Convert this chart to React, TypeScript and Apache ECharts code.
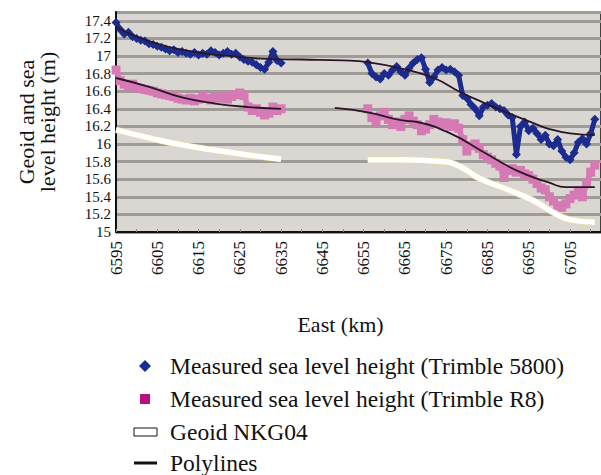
import React, { useEffect, useRef } from "react";
import * as echarts from "echarts";

// Measurement profile: east coordinate (km) vs height (m)
const EAST_MIN = 6595;
const EAST_MAX = 6712.5;
const Y_MIN = 15;
const Y_MAX = 17.5;

// Trimble 5800 sea level heights, one reading per km
const t5800Start1 = 6595;
const t5800Seg1 = [
  17.38, 17.3, 17.25, 17.27, 17.22, 17.2, 17.18, 17.17, 17.14, 17.13,
  17.11, 17.1, 17.08, 17.06, 17.07, 17.04, 17.05, 17.03, 17.02, 17.04,
  17.01, 17.03, 17.02, 17.06, 17.04, 17.01, 17.03, 17.05, 17.02, 17.03,
  16.99, 16.96, 16.94, 16.93, 16.9, 16.87, 16.85, 16.93, 17.05, 16.95, 16.92,
];
const t5800Start2 = 6656;
const t5800Seg2 = [
  16.92, 16.8, 16.76, 16.74, 16.8, 16.78, 16.84, 16.88, 16.82, 16.78,
  16.86, 16.92, 16.96, 16.98, 16.85, 16.7, 16.76, 16.84, 16.87, 16.84,
  16.85, 16.82, 16.78, 16.55, 16.52, 16.45, 16.4, 16.32, 16.42, 16.44,
  16.46, 16.42, 16.4, 16.38, 16.33, 16.3, 15.88, 16.2, 16.25, 16.15,
  16.18, 16.12, 16.05, 16.1, 16.0, 15.98, 16.05, 15.92, 15.85, 15.82,
  15.9, 16.02, 16.06, 16.0, 16.12, 16.28,
];

// Trimble R8 sea level heights, one reading per km
const r8Start1 = 6595;
const r8Seg1 = [
  16.84, 16.72, 16.68, 16.66, 16.68, 16.64, 16.63, 16.62, 16.61, 16.6,
  16.58, 16.57, 16.56, 16.55, 16.54, 16.52, 16.51, 16.5, 16.52, 16.49,
  16.51, 16.55, 16.52, 16.5, 16.53, 16.52, 16.55, 16.51, 16.54, 16.56,
  16.58, 16.55, 16.42, 16.38, 16.4, 16.36, 16.33, 16.35, 16.42, 16.38, 16.4,
];
const r8Start2 = 6656;
const r8Seg2 = [
  16.4, 16.3, 16.25, 16.32, 16.36, 16.28, 16.22, 16.25, 16.2, 16.28,
  16.32, 16.26, 16.22, 16.15, 16.17, 16.22, 16.28, 16.25, 16.22, 16.24,
  16.2, 16.23, 16.18, 16.05, 15.92, 15.98, 16.0, 15.95, 15.88, 15.85,
  15.82, 15.78, 15.75, 15.62, 15.7, 15.72, 15.68, 15.7, 15.66, 15.64,
  15.6, 15.55, 15.5, 15.48, 15.4, 15.35, 15.3, 15.28, 15.32, 15.38,
  15.42, 15.45, 15.4, 15.55, 15.68, 15.76,
];

// Geoid NKG04 along the profile
const geoidEast1 = [6595, 6603, 6611, 6619, 6627, 6635];
const geoidHeight1 = [16.16, 16.07, 15.99, 15.93, 15.875, 15.83];
const geoidEast2 = [6656, 6664, 6674, 6678.5, 6683, 6690, 6696, 6701, 6705, 6711];
const geoidHeight2 = [15.82, 15.82, 15.8, 15.74, 15.61, 15.48, 15.36, 15.22, 15.14, 15.11];

// Fitted polylines
const polyUpperEast = [6595, 6600, 6605, 6610, 6615, 6620, 6625, 6630, 6640, 6650, 6656, 6664, 6672, 6678, 6684, 6688, 6696, 6700, 6705, 6711];
const polyUpperHeight = [17.33, 17.22, 17.14, 17.08, 17.04, 17.01, 16.99, 16.97, 16.96, 16.95, 16.93, 16.86, 16.75, 16.6, 16.47, 16.39, 16.24, 16.17, 16.12, 16.1];
const polyLowerEast1 = [6595, 6603, 6611, 6619, 6627, 6635];
const polyLowerHeight1 = [16.75, 16.65, 16.53, 16.46, 16.42, 16.4];
const polyLowerEast2 = [6648, 6656, 6664, 6668, 6676, 6684, 6692, 6700, 6704, 6711];
const polyLowerHeight2 = [16.41, 16.36, 16.27, 16.25, 16.12, 15.91, 15.7, 15.56, 15.51, 15.51];

const legendLabels = [
  "Measured sea level height (Trimble 5800)",
  "Measured sea level height (Trimble R8)",
  "Geoid NKG04",
  "Polylines",
];

const BLUE = "#1c2c8e";
const PINK = "#d67ab6";
const MAGENTA = "#b8107c";
const FONT = "Liberation Serif";

const perKm = (start: number, vals: number[]) => vals.map((v, i) => [start + i, v]);
const pairs = (xs: number[], ys: number[]) => xs.map((x, i) => [x, ys[i]]);

export default function App() {
  const ref = useRef<HTMLDivElement>(null);

  useEffect(() => {
    if (!ref.current) return;
    const chart = echarts.init(ref.current, undefined, { renderer: "svg" });

    const measured = (data: number[][], color: string, symbol: string, size: number, width: number) => ({
      type: "line",
      data,
      symbol,
      symbolSize: size,
      showSymbol: true,
      itemStyle: { color },
      lineStyle: { color, width },
      z: 2,
    });
    const geoidUnder = (data: number[][]) => ({
      type: "line",
      data,
      smooth: true,
      showSymbol: false,
      lineStyle: { color: "#eadb8e", width: 6.5 },
      z: 3,
    });
    const geoidTop = (data: number[][]) => ({
      type: "line",
      data,
      smooth: true,
      showSymbol: false,
      lineStyle: { color: "#ffffff", width: 5.5 },
      z: 4,
    });
    const poly = (data: number[][]) => ({
      type: "line",
      data,
      smooth: true,
      showSymbol: false,
      lineStyle: { color: "#2a1626", width: 1.8 },
      z: 5,
    });

    const lx = 145;
    const tx = 170;
    const rows = [366, 399, 432, 463];

    chart.setOption({
      animation: false,
      backgroundColor: "#ffffff",
      grid: {
        left: 116,
        right: -2,
        top: 12,
        bottom: 243,
        show: true,
        backgroundColor: "#dad7d3",
        borderColor: "#111",
        borderWidth: 1.5,
      },
      xAxis: {
        type: "value",
        min: EAST_MIN,
        max: EAST_MAX,
        interval: 5,
        name: "East (km)",
        nameLocation: "middle",
        nameGap: 81,
        nameTextStyle: { fontFamily: FONT, fontSize: 22, color: "#111", padding: [0, 36, 0, 0] },
        axisLine: { lineStyle: { color: "#111", width: 2 } },
        axisTick: { show: true, inside: true, length: 3, lineStyle: { color: "#888" } },
        splitLine: { show: false },
        axisLabel: {
          rotate: 90,
          margin: 9,
          fontFamily: FONT,
          fontSize: 17,
          color: "#111",
          formatter: (v: number) => ((v - EAST_MIN) % 10 === 0 ? String(v) : ""),
        },
      },
      yAxis: {
        type: "value",
        min: Y_MIN,
        max: Y_MAX,
        interval: 0.2,
        name: "Geoid and sea\nlevel height (m)",
        nameLocation: "middle",
        nameGap: 58,
        nameRotate: 90,
        nameTextStyle: { fontFamily: FONT, fontSize: 22, color: "#111", lineHeight: 21 },
        axisLine: { show: true, lineStyle: { color: "#111", width: 2 } },
        axisTick: { show: false },
        splitLine: { show: true, lineStyle: { color: "#9f9b96", width: 3 } },
        axisLabel: {
          showMaxLabel: false,
          margin: 5,
          fontFamily: FONT,
          fontSize: 15,
          color: "#111",
          formatter: (v: number) => String(Number(v.toFixed(1))),
        },
      },
      series: [
        measured(perKm(r8Start1, r8Seg1), PINK, "rect", 9, 5.5),
        measured(perKm(r8Start2, r8Seg2), PINK, "rect", 9, 5.5),
        measured(perKm(t5800Start1, t5800Seg1), BLUE, "diamond", 9, 5),
        measured(perKm(t5800Start2, t5800Seg2), BLUE, "diamond", 9, 5),
        geoidUnder(pairs(geoidEast1, geoidHeight1)),
        geoidUnder(pairs(geoidEast2, geoidHeight2)),
        geoidTop(pairs(geoidEast1, geoidHeight1)),
        geoidTop(pairs(geoidEast2, geoidHeight2)),
        poly(pairs(polyUpperEast, polyUpperHeight)),
        poly(pairs(polyLowerEast1, polyLowerHeight1)),
        poly(pairs(polyLowerEast2, polyLowerHeight2)),
      ],
      graphic: [
        { type: "polygon", shape: { points: [[lx, rows[0] - 6], [lx + 6, rows[0]], [lx, rows[0] + 6], [lx - 6, rows[0]]] }, style: { fill: BLUE } },
        { type: "rect", shape: { x: lx - 5, y: rows[1] - 5, width: 10, height: 10 }, style: { fill: MAGENTA } },
        { type: "rect", shape: { x: lx - 11, y: rows[2] - 4, width: 23, height: 8 }, style: { fill: "#fff", stroke: "#111", lineWidth: 1 } },
        { type: "rect", shape: { x: lx - 11, y: rows[3] - 1.5, width: 23, height: 3 }, style: { fill: "#111" } },
        ...legendLabels.map((t, i) => ({
          type: "text",
          style: { text: t, x: tx, y: rows[i], fontFamily: FONT, fontSize: 23.5, fill: "#111", verticalAlign: "middle", align: "left" },
        })),
      ],
    });

    return () => chart.dispose();
  }, []);

  return <div ref={ref} style={{ position: "fixed", left: 0, top: 0, width: 601, height: 475 }} />;
}
